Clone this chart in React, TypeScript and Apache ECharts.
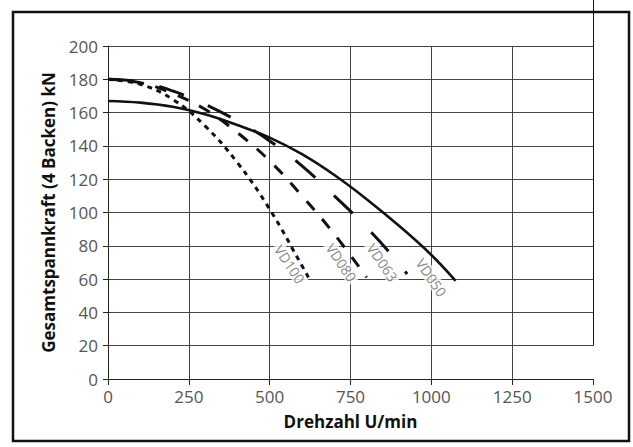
import React, { useEffect, useRef } from "react";
import * as echarts from "echarts";

// Drehzahl (U/min) vs Gesamtspannkraft (kN)
const vd050: [number, number][] = [
  [0, 167], [100, 166], [200, 163.5], [300, 159], [400, 152.5], [500, 145],
  [600, 135], [700, 122.5], [800, 108], [900, 92], [1000, 74.5], [1075, 59],
];
const vd063: [number, number][] = [
  [0, 180], [100, 178.5], [200, 173], [300, 165], [400, 155], [500, 143],
  [600, 128], [700, 110], [800, 91], [900, 69.5], [925, 63],
];
const vd080: [number, number][] = [
  [0, 180], [100, 178], [200, 171.5], [300, 162], [400, 148], [500, 131],
  [600, 110], [700, 87], [800, 61],
];
const vd100: [number, number][] = [
  [0, 180], [100, 177], [200, 168], [300, 152], [400, 130], [500, 102],
  [600, 68], [620, 61],
];
// curve labels: [rpm, kN, text]
const curveLabels: [number, number, string][] = [
  [562, 69, "VD100"],
  [722, 70, "VD080"],
  [849, 70, "VD063"],
  [1000, 61, "VD050"],
];
const xTitle = "Drehzahl U/min";
const yTitle = "Gesamtspannkraft (4 Backen) kN";

const FONT = "'Open Sans', 'Noto Sans', sans-serif";

export default function App() {
  const ref = useRef<HTMLDivElement>(null);
  useEffect(() => {
    if (!ref.current) return;
    const chart = echarts.init(ref.current, undefined, { renderer: "svg" });
    const lineSeries = (name: string, data: [number, number][], type: any, width: number) => ({
      name,
      type: "line",
      data,
      smooth: 0.4,
      symbol: "none",
      z: 3,
      lineStyle: { color: "#111", width, type, cap: "butt" },
    });
    chart.setOption({
      animation: false,
      grid: { left: 108, right: 40, top: 46, bottom: 68 },
      xAxis: {
        type: "value",
        min: 0,
        max: 1500,
        interval: 250,
        name: xTitle,
        nameLocation: "middle",
        nameGap: 34,
        nameTextStyle: { fontFamily: FONT, fontWeight: "bold", fontSize: 17, color: "#111" },
        axisLine: { show: true, lineStyle: { color: "#222", width: 1 } },
        axisTick: { show: true, length: 6, lineStyle: { color: "#222" } },
        axisLabel: {
          fontFamily: FONT,
          fontSize: 17,
          color: "#555",
          margin: 9,
          formatter: (v: number) => String(v),
        },
        splitLine: { show: true, showMaxLine: false, lineStyle: { color: "#444", width: 1 } },
      },
      yAxis: {
        type: "value",
        min: 0,
        max: 200,
        interval: 20,
        name: yTitle,
        nameLocation: "middle",
        nameGap: 51,
        nameTextStyle: { fontFamily: FONT, fontWeight: "bold", fontSize: 17, color: "#111" },
        axisLine: { show: true, lineStyle: { color: "#222", width: 1 } },
        axisTick: { show: true, length: 5, lineStyle: { color: "#222" } },
        axisLabel: {
          fontFamily: FONT,
          fontSize: 17,
          color: "#555",
          margin: 10,
          formatter: (v: number) => String(v),
        },
        splitLine: { show: true, lineStyle: { color: "#444", width: 1 } },
      },
      series: [
        lineSeries("VD050", vd050, "solid", 2.6),
        lineSeries("VD063", vd063, [26, 26], 3),
        lineSeries("VD080", vd080, [12, 12], 3),
        lineSeries("VD100", vd100, [5, 5], 3),
        {
          type: "scatter",
          z: 1,
          symbolSize: 0,
          data: curveLabels,
          label: {
            show: true,
            position: "inside",
            rotate: -56,
            formatter: (p: any) => p.data[2],
            fontFamily: FONT,
            fontSize: 14,
            color: "#666",
            backgroundColor: "#fff",
            padding: [0, 2],
          },
        },
      ],
    });
    const top = chart.convertToPixel({ xAxisIndex: 0, yAxisIndex: 0 }, [1500, 20]) as number[];
    chart.setOption({
      graphic: [
        {
          type: "rect",
          shape: { x: 13, y: 12, width: 616, height: 429 },
          style: { fill: "none", stroke: "#111", lineWidth: 2.5 },
          silent: true,
        },
        {
          type: "line",
          shape: { x1: Math.round(top[0]) + 0.5, y1: 0, x2: Math.round(top[0]) + 0.5, y2: top[1] },
          style: { stroke: "#111", lineWidth: 1 },
          silent: true,
        },
      ],
    });
    return () => chart.dispose();
  }, []);
  return (
    <div
      ref={ref}
      style={{ position: "fixed", left: 0, top: 0, width: 633, height: 447, background: "#fff" }}
    />
  );
}
